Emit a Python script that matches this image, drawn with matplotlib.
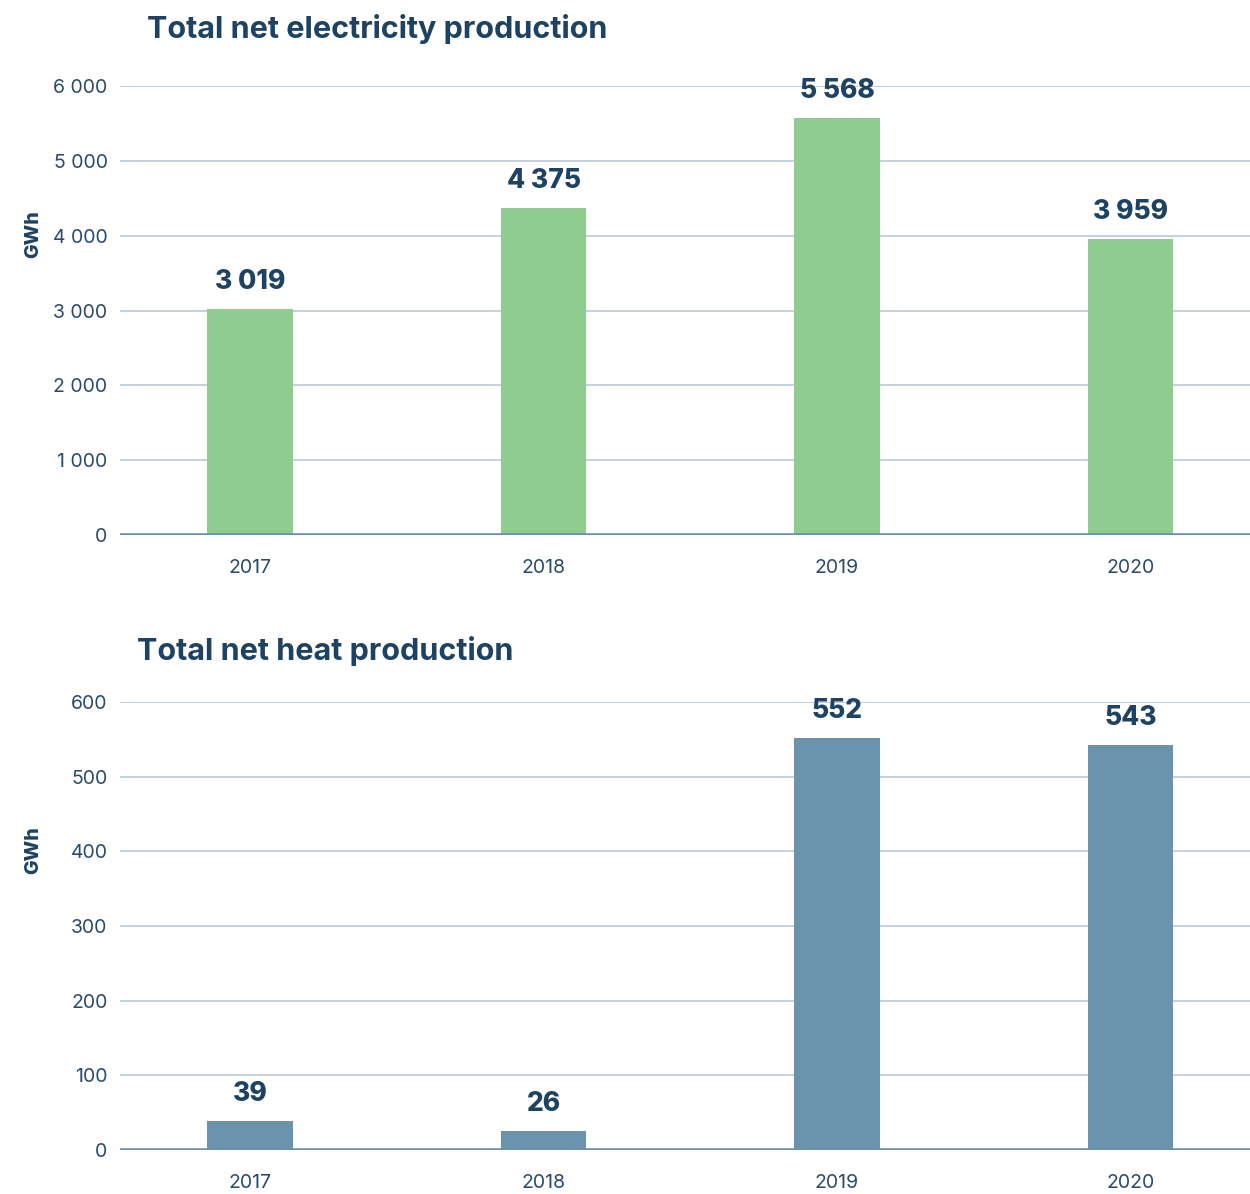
import matplotlib
matplotlib.use("Agg")
import matplotlib.pyplot as plt
from matplotlib.ticker import FuncFormatter

years = ["2017", "2018", "2019", "2020"]
electricity_gwh = [3019, 4375, 5568, 3959]
heat_gwh = [39, 26, 552, 543]

elec_ticks = [0, 1000, 2000, 3000, 4000, 5000, 6000]
heat_ticks = [0, 100, 200, 300, 400, 500, 600]

DARK = "#1d4262"
TICK_COLOR = "#2b4b6b"
GRID = "#b3c5d3"
BASE = "#6d91aa"
GREEN = "#8fcc90"
BLUE = "#6a93ae"

plt.rcParams["font.family"] = ["Inter", "DejaVu Sans"]

fig = plt.figure(figsize=(12.5, 11.94), dpi=100)
W, H = 1250, 1194


def fmt_thousands(v, _pos=None):
    return f"{int(round(v)):,}".replace(",", " ")


def make_panel(rect, values, ticks, color, title, title_x, title_y):
    left, top, right, bottom = rect
    ax = fig.add_axes([left / W, 1 - bottom / H, (right - left) / W, (bottom - top) / H])
    x = list(range(len(values)))
    ax.bar(x, values, width=0.29, color=color, zorder=3)
    ax.set_xlim(-0.443, 3.407)
    ax.set_ylim(ticks[0], ticks[-1])
    ax.set_yticks(ticks)
    ax.yaxis.set_major_formatter(FuncFormatter(fmt_thousands))
    ax.set_xticks(x)
    ax.set_xticklabels(years)
    ax.tick_params(axis="both", length=0, labelsize=14, colors=TICK_COLOR)
    ax.tick_params(axis="y", pad=9)
    ax.tick_params(axis="x", pad=17)
    for s in ax.spines.values():
        s.set_visible(False)
    ax.grid(axis="y", color=GRID, linewidth=1.1, zorder=0)
    ax.axhline(0, color=BASE, linewidth=2.6, zorder=4)
    for xi, v in zip(x, values):
        ax.annotate(fmt_thousands(v), (xi, v), xytext=(0, 10), textcoords="offset points",
                    ha="center", va="bottom", fontsize=19, fontweight="heavy",
                    color=DARK, clip_on=False, zorder=5)
    ax.set_ylabel("GWh", fontsize=14, fontweight="heavy", color=DARK)
    ax.yaxis.set_label_coords((42 - left) / (right - left), 0.67)
    fig.text(title_x / W, 1 - title_y / H, title, fontsize=22, fontweight="bold",
             color=DARK, ha="left", va="center")
    return ax


make_panel((120, 86, 1250, 535), electricity_gwh, elec_ticks, GREEN,
           "Total net electricity production", 147, 29)
make_panel((120, 702, 1250, 1150), heat_gwh, heat_ticks, BLUE,
           "Total net heat production", 137, 651)

fig.savefig("out.png", dpi=100, facecolor="white")
